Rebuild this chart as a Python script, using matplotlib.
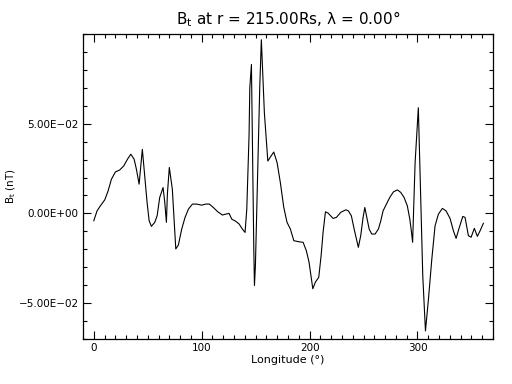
import matplotlib
matplotlib.use("Agg")
import matplotlib.pyplot as plt
from matplotlib.ticker import MultipleLocator, FixedLocator, FuncFormatter

longitude = [0, 3, 6.1, 10.2, 13.3, 16.3, 20, 24, 27.8, 31.2, 34.3, 37.4, 39.5, 42,
             45, 47.2, 49.4, 51.3, 53.4, 56.5, 58.7, 61.1, 64.2, 65.8, 67.3, 68.2,
             70, 72.8, 76, 78.4, 81.5, 84.6, 87.7, 91.4, 95.4, 100, 103.8, 107.1,
             110.8, 114.9, 119.2, 122.3, 125.4, 127.9, 131.6, 134.7, 137.7, 140.2,
             141.8, 143.9, 144.6, 146.1, 148.3, 148.9, 149.8, 153.8, 155.3, 158.1,
             161.3, 164.3, 166.8, 169.9, 172.9, 176.1, 179.1, 182.2, 185.4, 190,
             194, 197, 199.5, 203, 205.4, 208.5, 210.7, 212.5, 214.7, 217.1, 221.8,
             224.9, 228.9, 233.6, 236, 238.7, 241.3, 243.4, 245.2, 247.4, 249.6,
             251.2, 252.7, 255.2, 257.6, 260.7, 263.8, 266, 268.1, 271.2, 274.3,
             277.7, 281.4, 284.5, 287.6, 290.6, 292.9, 294.3, 295.5, 297.8, 300.8,
             302.5, 304.9, 307.4, 310.2, 313.3, 316.3, 319.4, 323.1, 326.5, 330.2,
             333.3, 335.8, 338.8, 342, 344.1, 347.2, 349.7, 352.7, 355.5, 358, 361.1]
bt = [-0.0041, 0.0014, 0.0042, 0.0076, 0.0126, 0.019, 0.0231, 0.0242, 0.0265, 0.0302,
      0.033, 0.0302, 0.0246, 0.0163, 0.0357, 0.0209, 0.0061, -0.0041, -0.0072, -0.005,
      -0.0013, 0.0089, 0.0144, 0.0061, -0.005, 0.0107, 0.0256, 0.0135, -0.0198,
      -0.0176, -0.0087, -0.0022, 0.0024, 0.0052, 0.0052, 0.0046, 0.0052, 0.0052,
      0.0033, 0.0009, -0.0009, -0.0004, 0.0, -0.0032, -0.0044, -0.0059, -0.0087,
      -0.0106, 0.0024, 0.0435, 0.07, 0.083, -0.0198, -0.0402, -0.029, 0.07, 0.0968,
      0.0561, 0.0292, 0.032, 0.0342, 0.0283, 0.0172, 0.0033, -0.005, -0.0087,
      -0.0152, -0.0158, -0.0161, -0.0208, -0.0272, -0.042, -0.0383, -0.0356,
      -0.0235, -0.0106, 0.0009, 0.0002, -0.0028, -0.0022, 0.0006, 0.002, 0.0014,
      -0.0013, -0.0087, -0.0143, -0.0189, -0.0124, -0.0022, 0.0033, -0.0013,
      -0.0087, -0.0115, -0.0115, -0.0087, -0.0041, 0.0014, 0.0052, 0.0089, 0.012,
      0.0131, 0.0117, 0.0089, 0.0042, -0.0032, -0.0097, -0.0161, 0.0283, 0.0589,
      0.02, -0.0347, -0.0655, -0.0476, -0.0254, -0.0069, -0.0004, 0.0028, 0.0014,
      -0.0028, -0.0097, -0.0139, -0.0078, -0.0017, -0.0022, -0.0124, -0.0133,
      -0.0083, -0.0128, -0.0097, -0.0055]

x_ticks = [0, 100, 200, 300]
y_ticks = [-0.05, 0.0, 0.05]

title = r"B$_{\mathrm{t}}$ at r = 215.00Rs, λ = 0.00°"
xlabel = "Longitude (°)"
ylabel = r"B$_{\mathrm{t}}$ (nT)"

plt.rcParams['font.family'] = ['DejaVu Sans']
plt.rcParams['mathtext.fontset'] = 'dejavusans'

fig = plt.figure(figsize=(5.12, 3.84), dpi=100)
ax = fig.add_axes([83/512, (384-339)/384, 410/512, 305/384])
ax.plot(longitude, bt, color='black', lw=0.8)
ax.set_xlim(-10, 370)
ax.set_ylim(-0.07, 0.10)

ax.xaxis.set_major_locator(FixedLocator(x_ticks))
ax.xaxis.set_minor_locator(MultipleLocator(10))
ax.yaxis.set_major_locator(FixedLocator(y_ticks))
ax.yaxis.set_minor_locator(MultipleLocator(0.01))

def yfmt(v, pos):
    return ("%.2E" % v).replace("-", "\u2212")
ax.yaxis.set_major_formatter(FuncFormatter(yfmt))

ax.tick_params(which='both', direction='in', top=True, right=True,
               color='black', width=0.8, labelsize=7.5, pad=3)
ax.tick_params(which='major', length=6)
ax.tick_params(which='minor', length=3)
for s in ax.spines.values():
    s.set_linewidth(0.9)

ax.set_title(title, fontsize=11, pad=7)
ax.set_xlabel(xlabel, fontsize=8, labelpad=1)
ax.set_ylabel(ylabel, fontsize=7.5)
ax.yaxis.set_label_coords(-0.159, 0.5)

fig.savefig("out.png", dpi=100, facecolor='white')
